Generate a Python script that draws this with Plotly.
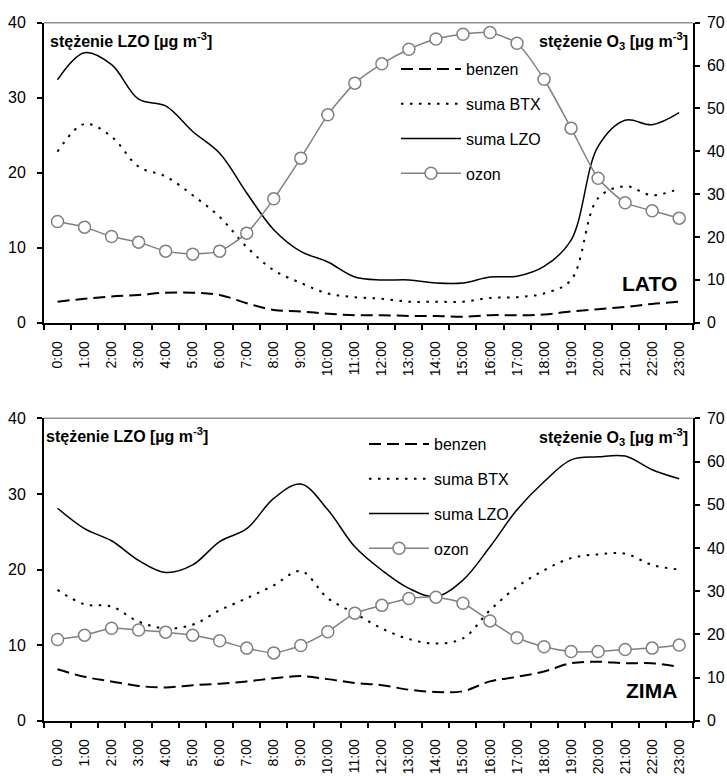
import plotly.graph_objects as go

hours = ["0:00", "1:00", "2:00", "3:00", "4:00", "5:00", "6:00", "7:00", "8:00", "9:00",
         "10:00", "11:00", "12:00", "13:00", "14:00", "15:00", "16:00", "17:00", "18:00",
         "19:00", "20:00", "21:00", "22:00", "23:00"]

lato_benzen = [2.8, 3.2, 3.5, 3.7, 4.0, 4.0, 3.7, 2.6, 1.7, 1.5, 1.2, 1.0, 1.0, 0.9, 0.9, 0.8,
               1.0, 1.0, 1.1, 1.5, 1.8, 2.1, 2.5, 2.8]
lato_btx = [22.8, 26.5, 24.8, 20.8, 19.5, 17.0, 14.1, 10.1, 7.0, 5.3, 3.9, 3.4, 3.2, 2.8, 2.8, 2.8,
            3.3, 3.4, 3.9, 5.7, 16.6, 18.2, 17.0, 17.9]
lato_lzo = [32.4, 36.0, 34.4, 29.8, 28.9, 25.5, 22.6, 17.3, 12.4, 9.5, 8.1, 6.1, 5.7, 5.7, 5.3, 5.3,
            6.1, 6.2, 7.5, 11.0, 23.5, 27.0, 26.4, 28.0]
lato_ozon = [23.6, 22.3, 20.1, 18.8, 16.7, 16.0, 16.7, 20.9, 28.9, 38.4, 48.5, 55.9, 60.4, 63.8,
             66.2, 67.3, 67.7, 65.2, 56.8, 45.4, 33.7, 28.0, 26.1, 24.4]

zima_benzen = [6.8, 5.8, 5.2, 4.6, 4.4, 4.7, 4.9, 5.2, 5.6, 5.9, 5.5, 5.0, 4.7, 4.1, 3.8, 3.9,
               5.2, 5.8, 6.5, 7.6, 7.8, 7.6, 7.6, 7.1]
zima_btx = [17.3, 15.4, 15.1, 13.1, 12.2, 12.7, 14.6, 16.2, 17.9, 19.8, 16.2, 14.2, 12.2, 10.8,
            10.2, 10.9, 14.6, 17.7, 19.9, 21.5, 22.0, 22.1, 20.6, 20.0]
zima_lzo = [28.1, 25.4, 23.8, 21.2, 19.6, 20.6, 23.7, 25.4, 29.4, 31.3, 27.9, 23.0, 19.9, 17.5,
            16.4, 18.6, 23.0, 27.9, 31.6, 34.5, 34.9, 35.0, 33.2, 32.0]
zima_ozon = [18.8, 19.8, 21.4, 21.0, 20.5, 19.8, 18.5, 16.8, 15.7, 17.4, 20.6, 24.9, 26.7, 28.3,
             28.6, 27.2, 23.1, 19.2, 17.1, 16.0, 16.0, 16.5, 16.8, 17.5]

series_names = ["benzen", "suma BTX", "suma LZO", "ozon"]
left_ticks = [0, 10, 20, 30, 40]
right_ticks = [0, 10, 20, 30, 40, 50, 60, 70]

FONT = "Liberation Sans, Arial, sans-serif"
W, H = 727, 776
XD = [44 / W, 692.7 / W]
YD_TOP = [1 - 322.7 / H, 1 - 22.7 / H]
YD_BOT = [1 - 720.7 / H, 1 - 418.3 / H]

fig = go.Figure()


def add_set(benz, btx, lzo, ozon, xa, ya, ya2, leg):
    fig.add_trace(go.Scatter(x=hours, y=benz, name=series_names[0], mode="lines",
                             line=dict(color="black", width=2, dash="12px,6px", shape="spline", smoothing=1),
                             xaxis=xa, yaxis=ya, legend=leg, legendgroup=leg + "a"))
    fig.add_trace(go.Scatter(x=hours, y=btx, name=series_names[1], mode="lines",
                             line=dict(color="black", width=2, dash="2.5px,6.5px", shape="spline", smoothing=1),
                             xaxis=xa, yaxis=ya, legend=leg, legendgroup=leg + "b"))
    fig.add_trace(go.Scatter(x=hours, y=lzo, name=series_names[2], mode="lines",
                             line=dict(color="black", width=1.5, shape="spline", smoothing=1),
                             xaxis=xa, yaxis=ya, legend=leg, legendgroup=leg + "c"))
    fig.add_trace(go.Scatter(x=hours, y=ozon, name=series_names[3], mode="lines+markers",
                             line=dict(color="#808080", width=1.5, shape="spline", smoothing=0.6),
                             marker=dict(symbol="circle", size=12, color="white",
                                         line=dict(color="#808080", width=1.5)),
                             xaxis=xa, yaxis=ya2, legend=leg, legendgroup=leg + "d"))


add_set(lato_benzen, lato_btx, lato_lzo, lato_ozon, "x", "y", "y2", "legend")
add_set(zima_benzen, zima_btx, zima_lzo, zima_ozon, "x2", "y3", "y4", "legend2")

tickfont = dict(family=FONT, size=16, color="black")
xtickfont = dict(family=FONT, size=14, color="black")


def xaxis_main(anchor):
    return dict(domain=XD, anchor=anchor, type="category", categoryarray=hours,
                range=[-0.5, 23.5], tickson="boundaries", ticks="outside", ticklen=5,
                tickwidth=1.5, tickcolor="black", showline=True, linecolor="black", linewidth=2,
                showgrid=False, zeroline=False, tickangle=-90, tickfont=xtickfont,
                ticklabelstandoff=11, automargin=False, fixedrange=True)


def xaxis_twin(over, anchor):
    return dict(domain=XD, anchor=anchor, overlaying=over, type="linear", range=[-0.5, 23.5],
                tick0=-0.5, dtick=1, ticks="inside", ticklen=5, tickwidth=1.5, tickcolor="black",
                showticklabels=False, showline=False, showgrid=False, zeroline=False,
                automargin=False)


def yaxis_main(dom, anchor, rng, tv, side, over=None):
    d = dict(domain=dom, anchor=anchor, range=rng, tickvals=tv, side=side, ticks="outside",
             ticklen=5, tickwidth=1.5, tickcolor="black", showline=True, linecolor="black",
             linewidth=2, showgrid=False, zeroline=False, tickfont=tickfont,
             ticklabelstandoff=8 if side == "left" else 4, automargin=False)
    if over:
        d["overlaying"] = over
    return d


def yaxis_twin(dom, anchor, rng, tv, side, over):
    return dict(domain=dom, anchor=anchor, range=rng, tickvals=tv, side=side, overlaying=over,
                ticks="inside", ticklen=5, tickwidth=1.5, tickcolor="black",
                showticklabels=False, showline=False, showgrid=False, zeroline=False,
                automargin=False)


legend_common = dict(bgcolor="rgba(0,0,0,0)", borderwidth=0, font=dict(family=FONT, size=16, color="black"),
                     tracegroupgap=11, itemwidth=60, xanchor="left", yanchor="top",
                     xref="paper", yref="paper", itemclick=False, itemdoubleclick=False)

fig.update_layout(
    width=W, height=H, margin=dict(l=0, r=0, t=0, b=0),
    paper_bgcolor="white", plot_bgcolor="white",
    font=dict(family=FONT, size=16, color="black"),
    showlegend=True,
    xaxis=xaxis_main("y"),
    xaxis2=xaxis_main("y3"),
    xaxis3=xaxis_twin("x", "y"),
    xaxis4=xaxis_twin("x2", "y3"),
    yaxis=yaxis_main(YD_TOP, "x", [0, 40], left_ticks, "left"),
    yaxis2=yaxis_main(YD_TOP, "x", [0, 70], right_ticks, "right", "y"),
    yaxis3=yaxis_main(YD_BOT, "x2", [0, 40], left_ticks, "left"),
    yaxis4=yaxis_main(YD_BOT, "x2", [0, 70], right_ticks, "right", "y3"),
    yaxis5=yaxis_twin(YD_TOP, "x", [0, 40], left_ticks, "left", "y"),
    yaxis6=yaxis_twin(YD_TOP, "x", [0, 70], right_ticks, "right", "y"),
    yaxis7=yaxis_twin(YD_BOT, "x2", [0, 40], left_ticks, "left", "y3"),
    yaxis8=yaxis_twin(YD_BOT, "x2", [0, 70], right_ticks, "right", "y3"),
    legend=dict(legend_common, x=396 / W, y=1 - 52 / H),
    legend2=dict(legend_common, x=364 / W, y=1 - 427 / H),
)

# gray top border of each plot area
for yref in ["y domain", "y3 domain"]:
    xr = "x domain" if yref == "y domain" else "x2 domain"
    fig.add_shape(type="line", xref=xr, yref=yref, x0=0, x1=1, y0=1, y1=1,
                  line=dict(color="#909090", width=1.5))

bold16 = dict(family=FONT, size=16, color="black")
ann = [
    dict(text="<b>stężenie LZO [µg m<sup>-3</sup>]</b>", x=48 / W, y=1 - 40 / H, xanchor="left"),
    dict(text="<b>stężenie O<sub>3</sub> [µg m<sup>-3</sup>]</b>", x=690 / W, y=1 - 41 / H, xanchor="right"),
    dict(text="<b>stężenie LZO [µg m<sup>-3</sup>]</b>", x=44 / W, y=1 - 435 / H, xanchor="left"),
    dict(text="<b>stężenie O<sub>3</sub> [µg m<sup>-3</sup>]</b>", x=690 / W, y=1 - 437 / H, xanchor="right"),
]
for a in ann:
    fig.add_annotation(xref="paper", yref="paper", yanchor="middle", showarrow=False,
                       font=bold16, **a)

for txt, yc in [("LATO", 283), ("ZIMA", 690)]:
    fig.add_annotation(xref="paper", yref="paper", x=679 / W, y=1 - yc / H, xanchor="right",
                       yanchor="middle", showarrow=False, text="<b>" + txt + "</b>",
                       font=dict(family=FONT, size=21, color="black"))

fig.write_html("out.html", config={"displayModeBar": False},
               post_script="document.body.style.margin='0px';")
